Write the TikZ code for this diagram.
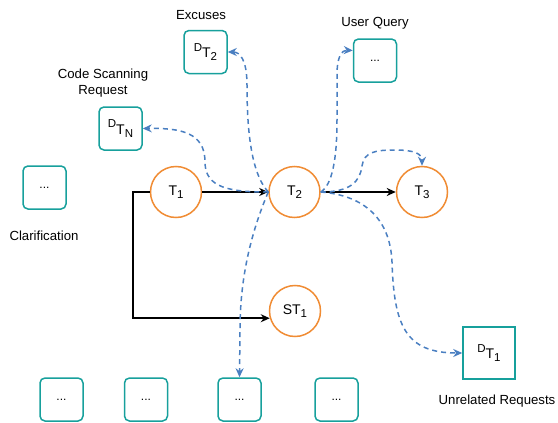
\documentclass[tikz,border=0pt]{standalone}
\usepackage{fontspec}
\setmainfont{Liberation Sans}
\usetikzlibrary{arrows.meta,calc}
\definecolor{orng}{HTML}{F08C34}
\definecolor{teal2}{HTML}{17A09C}
\definecolor{blu}{HTML}{4A7FC1}
\newcommand\mysub[1]{\raisebox{-3.3pt}{\fontsize{11.5}{12}\selectfont #1}}
\newcommand\mysup[1]{\raisebox{6.5pt}{\fontsize{11.5}{12}\selectfont #1}}
\tikzset{
  state/.style={circle,draw=orng,line width=1.5pt,minimum size=51pt,inner sep=0pt,font=\fontsize{14}{16}\selectfont},
  rbox/.style={rectangle,rounded corners=5pt,draw=teal2,line width=1.5pt,minimum size=43pt,inner sep=0pt,font=\fontsize{14}{16}\selectfont},
  sbox/.style={rectangle,draw=teal2,line width=1.5pt,minimum size=52pt,inner sep=0pt,font=\fontsize{14}{16}\selectfont},
  lbl/.style={align=center,inner sep=0pt},
  flow/.style={draw=black,line width=1.5pt,-{Stealth[length=9pt,width=8pt]}},
  dflow/.style={draw=blu,line width=1.5pt,dash pattern=on 5pt off 4pt,-{Stealth[length=9pt,width=8pt]}},
}
\begin{document}
\begin{tikzpicture}[x=1pt,y=-1pt,font=\fontsize{13.2}{16}\selectfont]
\useasboundingbox (0,0) rectangle (558,423);
% states
\node[state] (T1) at (176,192) {T\mysub{1}};
\node[state] (T2) at (294.5,192) {T\mysub{2}};
\node[state] (T3) at (422,192) {T\mysub{3}};
\node[state] (ST1) at (295,311) {ST\mysub{1}};
% boxes
\node[rbox] (DT2) at (205.5,52) {\mysup{D}T\mysub{2}};
\node[rbox] (DTN) at (120.5,128.5) {\mysup{D}T\mysub{N}};
\node[rbox,font=\fontsize{12}{14}\selectfont] (clar) at (44.5,187.5) {...};
\node[rbox,font=\fontsize{12}{14}\selectfont] (uq) at (375,60.5) {...};
\node[rbox,font=\fontsize{12}{14}\selectfont] (b1) at (61.5,399.5) {...};
\node[rbox,font=\fontsize{12}{14}\selectfont] (b2) at (146,399.5) {...};
\node[rbox,font=\fontsize{12}{14}\selectfont] (b3) at (239.5,399.5) {...};
\node[rbox,font=\fontsize{12}{14}\selectfont] (b4) at (336.5,399.5) {...};
\node[sbox] (DT1) at (489,353) {\mysup{D}T\mysub{1}};
% labels
\node[lbl] (lex) at (201,15) {Excuses};
\node[lbl] (lcs) at (103,83) {Code Scanning\\Request};
\node[lbl] (luq) at (375,23) {User Query};
\node[lbl] (lcl) at (44,236) {Clarification};
\node[lbl] (lur) at (497,401) {Unrelated Requests};
% black arrows
\draw[flow] (T1) -- (T2);
\draw[flow] (T2) -- (T3);
\coordinate (c1) at (133,192);
\draw[flow] (T1.west) -- (c1) |- (ST1.196);
% dashed arrows
\draw[dflow] (T2.west) .. controls (230,192) and (205,188) .. (205,162) .. controls (205,132) and (180,128) .. (DTN.east);
\draw[dflow] (T2.west) .. controls (250,172) and (247,125) .. (247,85) .. controls (247,60) and (240,52) .. (DT2.east);
\draw[dflow] (T2.west) .. controls (250,235) and (240,280) .. (240,330) -- (b3.north);
\draw[dflow] (T2.east) .. controls (332,185) and (337,160) .. (337,120) -- (337,75) .. controls (337,56) and (342,50) .. ([yshift=10pt]uq.west);
\draw[dflow] (T2.east) .. controls (350,192) and (360,182) .. (362,166) .. controls (364,152) and (375,150) .. (395,150) .. controls (415,150) and (422,154) .. (T3.north);
\draw[dflow] (T2.east) .. controls (360,195) and (390,215) .. (392,262) .. controls (394,325) and (405,353) .. (DT1.west);
\end{tikzpicture}
\end{document}
